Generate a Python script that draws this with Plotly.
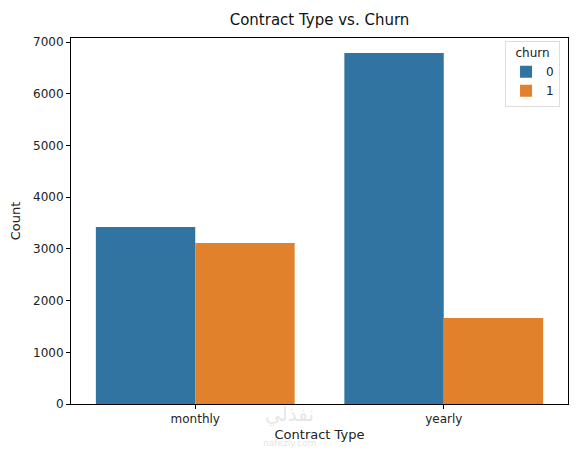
import plotly.graph_objects as go

contract_types = ["monthly", "yearly"]
churn_labels = ["0", "1"]
churn0_counts = [3425, 6790]
churn1_counts = [3115, 1665]
bar_colors = ["#3274a1", "#e1812c"]

FONT = "DejaVu Sans"
# the page body has an 8px margin, so the figure is a bit smaller than the window
W, H = 569, 447

fig = go.Figure()
for label, counts, color in zip(churn_labels, [churn0_counts, churn1_counts], bar_colors):
    fig.add_trace(go.Bar(
        x=contract_types,
        y=counts,
        name=label,
        marker=dict(color=color, line=dict(width=0)),
    ))

fig.update_layout(
    width=W,
    height=H,
    margin=dict(l=63, r=9, t=30, b=51, autoexpand=False),
    plot_bgcolor="white",
    paper_bgcolor="white",
    font=dict(family=FONT, size=12, color="#222222"),
    barmode="group",
    bargap=0.2,
    bargroupgap=0,
    title=dict(text="Contract Type vs. Churn", x=0.5, xref="paper",
               y=1 - 12 / H, yref="container", yanchor="middle",
               font=dict(size=15, color="#111111")),
    legend=dict(
        title=dict(text="churn", side="top center", font=dict(size=12)),
        x=0.984, y=0.993, xanchor="right", yanchor="top",
        bgcolor="rgba(255,255,255,0.8)",
        bordercolor="#dddddd", borderwidth=1,
        font=dict(size=12),
        traceorder="normal",
        tracegroupgap=4,
    ),
    showlegend=True,
)

fig.update_xaxes(
    title=dict(text="Contract Type", standoff=4, font=dict(size=13)),
    automargin=False,
    showline=True, linecolor="black", linewidth=1, mirror=True,
    ticks="outside", ticklen=4, tickcolor="black",
    showgrid=False,
)
fig.update_yaxes(
    title=dict(text="Count", standoff=10, font=dict(size=13)),
    automargin=False,
    range=[0, 7080],
    dtick=1000,
    showline=True, linecolor="black", linewidth=1, mirror=True,
    ticks="outside", ticklen=4, tickcolor="black",
    showgrid=False, zeroline=False,
)

# faint watermark
fig.add_annotation(text="نفذلي", xref="paper", yref="paper", x=0.44, y=-0.068,
                   showarrow=False, font=dict(size=20, color="rgba(170,170,170,0.3)"))
fig.add_annotation(text="nafezly.com", xref="paper", yref="paper", x=0.44, y=-0.125,
                   showarrow=False, font=dict(size=9, color="rgba(170,170,170,0.35)"))

fig.write_html("out.html")
